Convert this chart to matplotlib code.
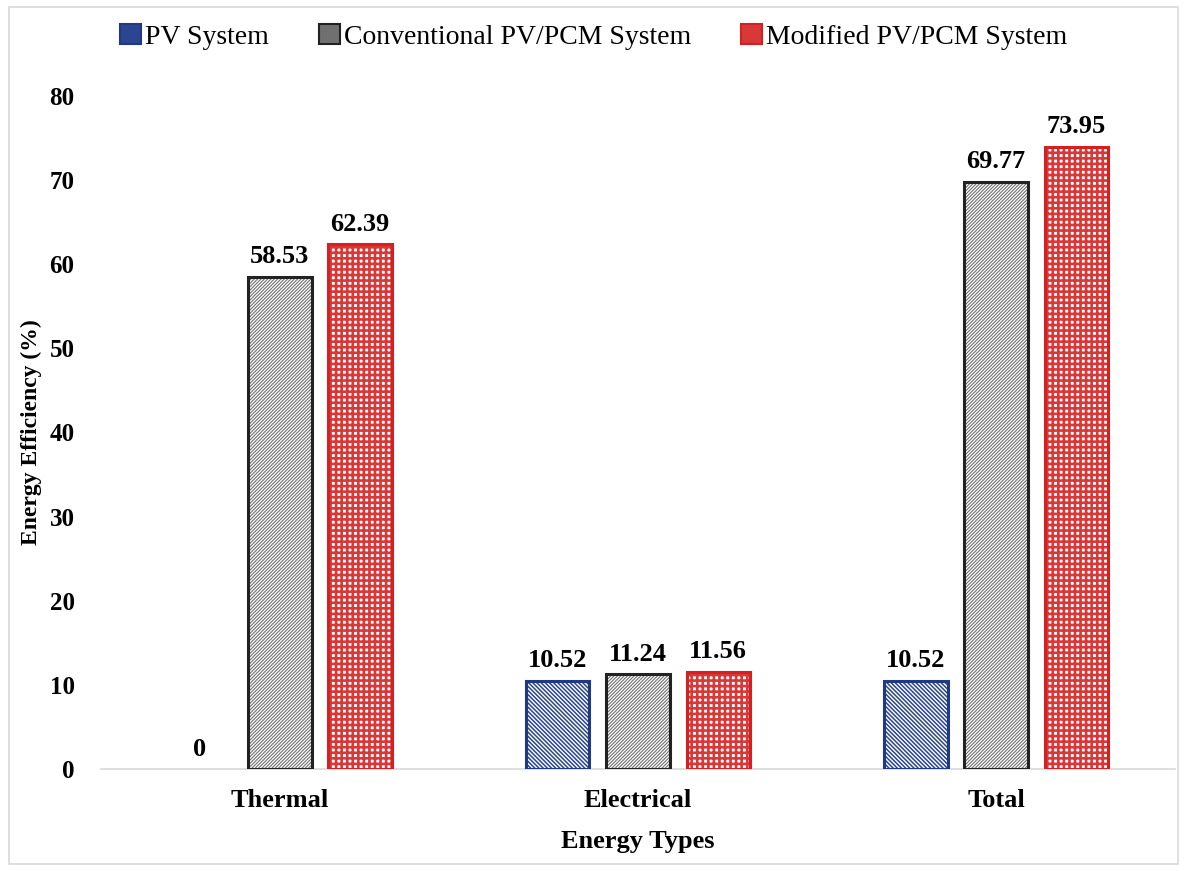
import numpy as np
import matplotlib.pyplot as plt
from matplotlib.patches import Rectangle

# -----------------------------
# data
# -----------------------------
categories = ["Thermal", "Electrical", "Total"]
series = ["PV System", "Conventional PV/PCM System", "Modified PV/PCM System"]
pv = [0, 10.52, 10.52]
conv = [58.53, 11.24, 69.77]
modified = [62.39, 11.56, 73.95]

plt.rcParams["font.family"] = ["Liberation Serif", "DejaVu Serif"]

fig = plt.figure(figsize=(11.87, 8.71), dpi=100)
ax = fig.add_axes([0.085, 0.117, 0.905, 0.773])

x = np.arange(len(categories))
w = 0.177
off = 0.224

styles = [
    # face, hatch colour, hatch, edge, hatch lw
    ("white", "#2b4590", "\\" * 8, "#1f3a80", 1.1),
    ("white", "#707070", "/" * 10, "#222222", 0.8),
    ("white", "#d83838", "+++", "#d42020", 1.9),
]

for i, (vals, (face, hc, hatch, ec, hlw)) in enumerate(zip([pv, conv, modified], styles)):
    plt.rcParams["hatch.linewidth"] = hlw
    pos = x + (i - 1) * off
    vals = np.array(vals)
    # hatched fill
    ax.bar(pos, vals, w, color=face, edgecolor=hc, hatch=hatch, linewidth=0, zorder=2)
    # outline
    mask = vals > 0
    ax.bar(pos[mask], vals[mask], w, fill=False, edgecolor=ec, linewidth=2.2, zorder=3)
    ax.bar([0], [0], 0, color=hc, edgecolor=ec, linewidth=1.5, label=series[i])
    for p, v in zip(pos, vals):
        lab = "0" if v == 0 else f"{v:.2f}"
        ax.text(p, v + 1.0, lab, ha="center", va="bottom", fontsize=19, fontweight="bold")

ax.set_xlim(-0.5, 2.5)
ax.set_ylim(0, 80)
ax.set_yticks(range(0, 81, 10))
ax.set_xticks(x)
ax.set_xticklabels(categories, fontsize=19, fontweight="bold")
for t in ax.get_yticklabels():
    t.set_fontsize(18)
    t.set_fontweight("bold")
ax.tick_params(axis="y", length=0, pad=19)
ax.tick_params(axis="x", length=0, pad=14)

for s in ["top", "right", "left"]:
    ax.spines[s].set_visible(False)
ax.spines["bottom"].set_color("#d9d9d9")
ax.spines["bottom"].set_linewidth(1.2)

ax.set_xlabel("Energy Types", fontsize=19, fontweight="bold", labelpad=13)
ax.set_ylabel("Energy Efficiency (%)", fontsize=17, fontweight="bold")
ax.yaxis.set_label_coords(-0.055, 0.5)

fig.legend(loc="center", bbox_to_anchor=(0.5, 0.958), ncol=3, frameon=False,
           fontsize=20, handlelength=0.75, handleheight=0.75, handletextpad=0.15,
           columnspacing=1.8)

# light frame around the picture
fig.patches.append(Rectangle((0.008, 0.008), 0.984, 0.984, transform=fig.transFigure,
                             fill=False, edgecolor="#d9d9d9", linewidth=1.2))

fig.savefig("out.png", dpi=100)
